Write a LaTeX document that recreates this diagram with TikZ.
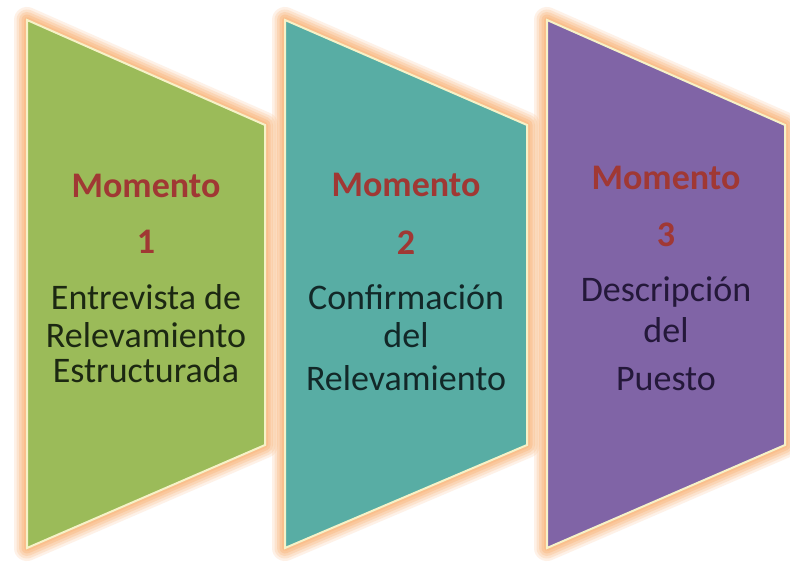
\documentclass[tikz,border=0pt]{standalone}
\usepackage{fontspec}
\setmainfont{Carlito}
\definecolor{glow}{RGB}{250,188,135}
\definecolor{rim}{RGB}{246,242,200}
\definecolor{fgreen}{RGB}{155,187,89}
\definecolor{fteal}{RGB}{88,173,164}
\definecolor{fpurple}{RGB}{128,100,166}
\definecolor{momred}{RGB}{160,56,52}
\definecolor{tgreen}{RGB}{28,40,18}
\definecolor{tteal}{RGB}{18,40,40}
\definecolor{tpurple}{RGB}{36,24,58}
\begin{document}
\begin{tikzpicture}[x=1pt,y=1pt,
  momtext/.style={anchor=base,font=\fontsize{36}{42}\selectfont\bfseries,text=momred,inner sep=0pt},
  bodytext/.style={anchor=base,font=\fontsize{36}{42}\selectfont,inner sep=0pt},
  rimline/.style={draw=rim,line width=2pt,line join=miter}]
\useasboundingbox (0,0) rectangle (790,563);
\fill[white] (0,0) rectangle (790,563);
% shape corners
\coordinate (a1) at (27,543); \coordinate (b1) at (265,438); \coordinate (c1) at (265,118); \coordinate (d1) at (27,15);
\coordinate (a2) at (285,543); \coordinate (b2) at (527,438); \coordinate (c2) at (527,118); \coordinate (d2) at (285,15);
\coordinate (a3) at (547,543); \coordinate (b3) at (785,438); \coordinate (c3) at (785,118); \coordinate (d3) at (547,15);
% glow
\foreach \i in {1,2,3}{
  \foreach \w/\o in {26/0.2,21/0.25,16/0.35,11/0.5,6/0.7}{
    \draw[glow,line width=\w pt,line join=round,opacity=\o] (a\i) -- (b\i) -- (c\i) -- (d\i) -- cycle;
  }
}
% fills
\filldraw[fill=fgreen,rimline] (a1) -- (b1) -- (c1) -- (d1) -- cycle;
\filldraw[fill=fteal,rimline] (a2) -- (b2) -- (c2) -- (d2) -- cycle;
\filldraw[fill=fpurple,rimline] (a3) -- (b3) -- (c3) -- (d3) -- cycle;
% texts shape 1
\node[momtext] (m1) at (146,365) {Momento};
\node[momtext] (n1) at (146,309) {1};
\node[bodytext,text=tgreen] (t1a) at (146,253) {Entrevista de};
\node[bodytext,text=tgreen] (t1b) at (146,215) {Relevamiento};
\node[bodytext,text=tgreen] (t1c) at (146,181) {Estructurada};
% texts shape 2
\node[momtext] (m2) at (406,366) {Momento};
\node[momtext] (n2) at (406,308) {2};
\node[bodytext,text=tteal] (t2a) at (406,253) {Confirmación};
\node[bodytext,text=tteal] (t2b) at (406,215) {del};
\node[bodytext,text=tteal] (t2c) at (406,173) {Relevamiento};
% texts shape 3
\node[momtext] (m3) at (666,373) {Momento};
\node[momtext] (n3) at (666,316) {3};
\node[bodytext,text=tpurple] (t3a) at (666,261) {Descripción};
\node[bodytext,text=tpurple] (t3b) at (666,221) {del};
\node[bodytext,text=tpurple] (t3c) at (666,173) {Puesto};
\end{tikzpicture}
\end{document}
